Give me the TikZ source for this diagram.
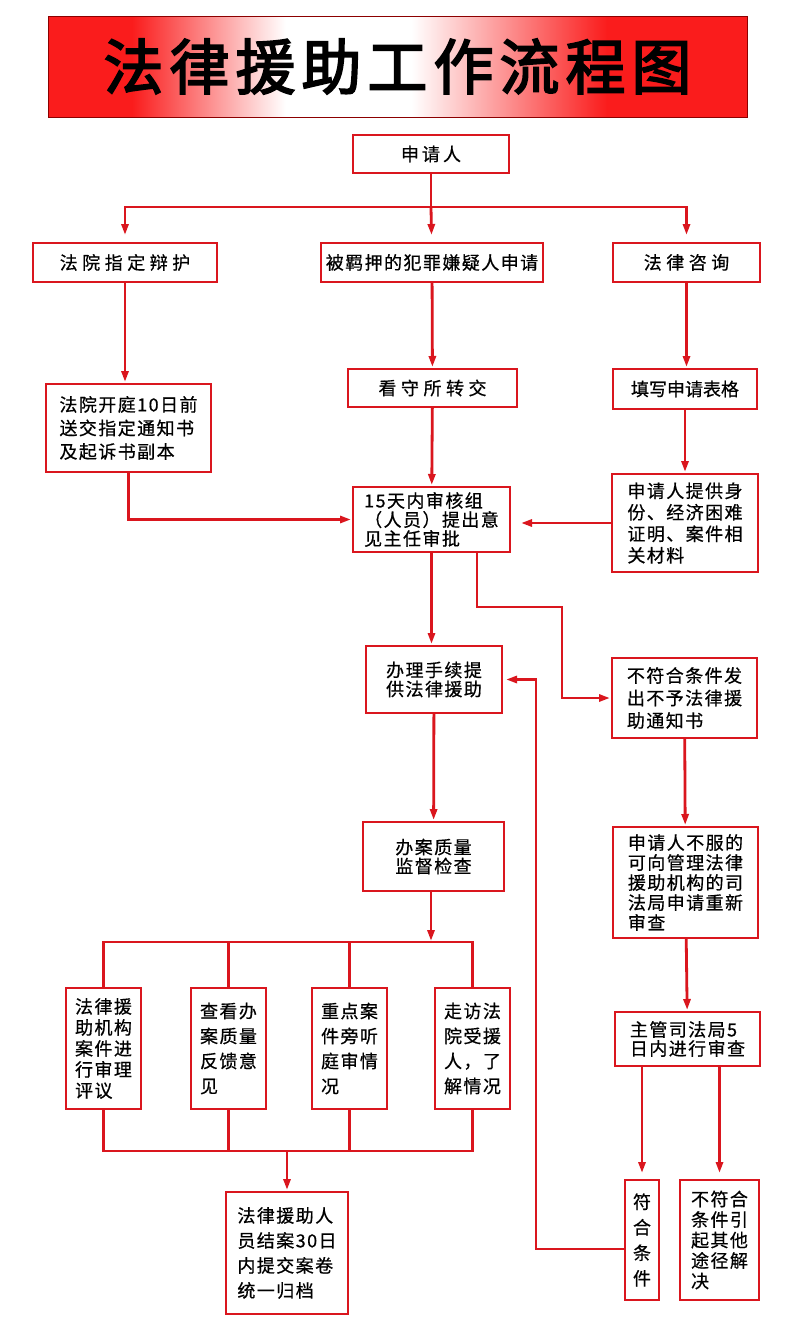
\documentclass[tikz,border=0pt]{standalone}
\usepackage{fontspec}
\usetikzlibrary{arrows.meta}
\newfontfamily\cjk[LetterSpace=8,FakeBold=0.6]{Noto Sans CJK SC}
\newfontfamily\cjkw[LetterSpace=25,FakeBold=0.6]{Noto Sans CJK SC}
\newfontfamily\cjkn[FakeBold=0.6]{Noto Sans CJK SC}
\newfontfamily\titlefont[FakeBold=3,LetterSpace=10]{Noto Sans CJK SC}
\definecolor{lred}{RGB}{218,22,30}
\definecolor{tred}{RGB}{250,28,28}
\pgfdeclarehorizontalshading{titleshade}{100bp}{color(0bp)=(tred); color(31bp)=(tred); color(42bp)=(white); color(51bp)=(white); color(65bp)=(tred); color(100bp)=(tred)}

\begin{document}
\begin{tikzpicture}[x=1pt,y=-1pt,
    every node/.style={draw=lred,line width=2pt,fill=white,inner sep=0pt,align=left,font=\cjk\fontsize{18}{21}\selectfont},
    bx/.style 2 args={minimum width=#1pt,minimum height=#2pt},
    ls/.style={font=\cjk\fontsize{18}{#1}\selectfont},
    wide/.style={font=\cjkw\fontsize{18}{21}\selectfont},
    link/.style={draw=lred,line width=2.8pt},
    arr/.style={link,-{Triangle[length=11pt,width=7pt]},shorten >=1pt}]
    \useasboundingbox (0,0) rectangle (800,1333);
    \fill[white] (0,0) rectangle (800,1333);

    \node[bx={699}{101},draw=red!55!black,line width=0.8pt,shade,shading=titleshade,
          font=\titlefont\fontsize{60}{60}\selectfont] (t) at (397.5,66.5) {法律援助工作流程图};

    \node[bx={156}{38},wide] (a) at (431,154) {申\,请\,人};

    % left column
    \node[bx={184}{39},wide] (l1) at (125,262.5) {法院指定辩护};
    \node[bx={165}{88},ls=23.5] (l2) at (128.5,428) {法院开庭10日前\\送交指定通知书\\及起诉书副本};

    % middle column
    \node[bx={222}{39}] (m1) at (432,262.5) {被羁押的犯罪嫌疑人申请};
    \node[bx={169}{38},wide] (m2) at (432.5,388) {看守所转交};
    \node[bx={157}{65},ls=19] (m3) at (431.5,519.5) {15天内审核组\\（人员）提出意\\见主任审批};
    \node[bx={136}{67},ls=19] (m4) at (434,679.5) {办理手续提\\供法律援助};
    \node[bx={141}{69},ls=19] (m5) at (433.5,856.5) {办案质量\\监督检查};

    % right column
    \node[bx={147}{39},wide] (r1) at (686.5,262.5) {法律咨询};
    \node[bx={144}{40},font=\cjkn\fontsize{18}{21}\selectfont] (r2) at (685,389) {填写申请表格};
    \node[bx={146}{98},ls=21.5] (r3) at (685,523) {申请人提供身\\份、经济困难\\证明、案件相\\关材料};
    \node[bx={145}{80},ls=22.5] (r4) at (684.5,698) {不符合条件发\\出不予法律援\\助通知书};
    \node[bx={145}{111},ls=20] (r5) at (685.5,882.5) {申请人不服的\\可向管理法律\\援助机构的司\\法局申请重新\\审查};
    \node[bx={145}{54},ls=19] (r6) at (687.5,1039) {主管司法局5\\日内进行审查};
    \node[bx={34}{120},ls=25.5,align=center] (r7) at (642,1240) {符\\合\\条\\件};
    \node[bx={79}{120},ls=20.5] (r8) at (719.5,1240) {不符合\\条件引\\起其他\\途径解\\决};

    % quality checks
    \node[bx={75}{121},ls=21] (q1) at (103.5,1048.5) {法律援\\助机构\\案件进\\行审理\\评议};
    \node[bx={75}{121},ls=25] (q2) at (228.5,1048.5) {查看办\\案质量\\反馈意\\见};
    \node[bx={75}{121},ls=25] (q3) at (349.5,1048.5) {重点案\\件旁听\\庭审情\\况};
    \node[bx={75}{121},ls=25] (q4) at (472.5,1048.5) {走访法\\院受援\\人，了\\解情况};
    \node[bx={122}{122},ls=25] (e) at (287,1253) {法律援助人\\员结案30日\\内提交案卷\\统一归档};

    \coordinate (j1) at (431,207);
    \coordinate (j2) at (431,942);
    \coordinate (j3) at (287,1151);
    \coordinate (k1) at (562,607);
    \coordinate (k2) at (536,1249);

    \draw[link] (a) -- (j1);
    \draw[arr,shorten >=7pt] (j1) -| (l1);
    \draw[arr,shorten >=7pt] (j1) -- (m1);
    \draw[arr,shorten >=7pt] (j1) -| (r1);

    \draw[arr] (l1.south) -- (l1.south |- l2.north);
    \draw[arr] (m1) -- (m2);
    \draw[arr] (r1.south) -- (r1.south |- r2.north);
    \draw[arr] (m2) -- (m3);
    \draw[arr] (r2) -- (r3);
    \draw[arr] (l2.south) |- (m3);
    \draw[arr,shorten >=10pt] (r3.west) -- (r3.west -| m3.east);

    \draw[arr] (m3.south) -- (m3.south |- m4.north);
    \draw[arr] ([xshift=45.5pt]m3.south) |- (k1) |- (r4);
    \draw[arr] (m4) -- (m5);
    \draw[arr] (r4) -- (r5);

    \draw[arr] (m5.south -| j2) -- (j2);
    \draw[link] (q1.north) |- (j2) -| (q4.north);
    \draw[link] (q2.north) -- (q2.north |- j2);
    \draw[link] (q3.north) -- (q3.north |- j2);
    \draw[link] (q1.south) |- (j3) -| (q4.south);
    \draw[link] (q2.south) -- (q2.south |- j3);
    \draw[link] (q3.south) -- (q3.south |- j3);
    \draw[arr] (j3) -- (e);

    \draw[arr] (r5) -- (r6);
    \draw[arr,shorten >=6pt] (r6.south -| r7.north) -- (r7.north);
    \draw[arr,shorten >=6pt] (r6.south -| r8.north) -- (r8.north);
    \draw[arr,shorten >=3pt] (r7.west |- k2) -- (k2) |- (m4.east);
\end{tikzpicture}
\end{document}
